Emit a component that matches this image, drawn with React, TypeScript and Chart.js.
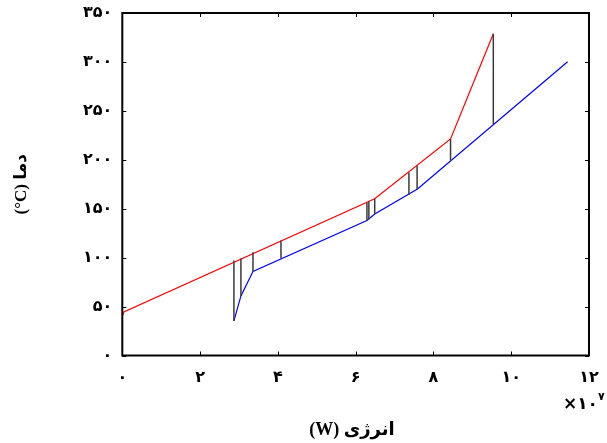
import React, { useEffect, useRef } from 'react';
import { Chart, registerables } from 'chart.js';

Chart.register(...registerables);

// ---- data (energy ×10^7 W, temperature °C) ----
const xTickValues = [0, 2, 4, 6, 8, 10, 12];
const yTickValues = [0, 50, 100, 150, 200, 250, 300, 350];

const hotX = [0, 0.04, 6.49, 8.44, 9.54];
const hotY = [40, 44.5, 160.2, 221.3, 328.8];

const coldX = [2.87, 3.05, 3.36, 6.29, 6.49, 7.59, 11.45];
const coldY = [35.3, 60.9, 85.8, 138, 144.5, 170.1, 300.1];

const linkX = [2.87, 3.05, 3.36, 4.08, 6.29, 6.34, 6.49, 7.37, 7.58, 8.44, 9.54];
const linkTop = [97.0, 99.1, 105.6, 117.5, 156.4, 157.3, 160.2, 187.1, 194.0, 221.3, 328.8];
const linkBottom = [35.3, 60.9, 85.8, 99.5, 138.0, 138.9, 144.5, 164.3, 170.1, 199.4, 236.6];

const xTitle = '(W) انرژی';
const yTitle = '(°C) دما';
const xMultiplier = '×۱۰';
const xExponent = '۷';

const FA_DIGITS = '۰۱۲۳۴۵۶۷۸۹';
const toFa = (n: number) => String(n).replace(/\d/g, (d) => FA_DIGITS[+d]);

const TICK_FONT = "'DejaVu Sans', sans-serif";
const TITLE_FONT = "'Liberation Serif', 'DejaVu Sans', serif";

const framePlugin = {
  id: 'frameAndTitles',
  afterDraw(chart: any) {
    const { ctx, chartArea: a, scales } = chart;
    const xs = scales.x;
    const ys = scales.y;
    ctx.save();
    ctx.strokeStyle = '#000';
    ctx.lineWidth = 2;
    ctx.strokeRect(a.left, a.top, a.right - a.left, a.bottom - a.top);
    ctx.lineWidth = 1;
    const L = 4;
    ctx.beginPath();
    xTickValues.forEach((v) => {
      const px = Math.round(xs.getPixelForValue(v)) + 0.5;
      ctx.moveTo(px, a.bottom);
      ctx.lineTo(px, a.bottom - L);
      ctx.moveTo(px, a.top);
      ctx.lineTo(px, a.top + L);
    });
    yTickValues.forEach((v) => {
      const py = Math.round(ys.getPixelForValue(v)) + 0.5;
      ctx.moveTo(a.left, py);
      ctx.lineTo(a.left + L, py);
      ctx.moveTo(a.right, py);
      ctx.lineTo(a.right - L, py);
    });
    ctx.stroke();

    ctx.fillStyle = '#000';
    ctx.textAlign = 'center';
    ctx.textBaseline = 'middle';
    ctx.font = `bold 18px ${TITLE_FONT}`;
    ctx.fillText(xTitle, 352, 430);

    ctx.save();
    ctx.translate(22, (a.top + a.bottom) / 2);
    ctx.rotate(-Math.PI / 2);
    ctx.font = `bold 17px ${TITLE_FONT}`;
    ctx.fillText(yTitle, 0, 0);
    ctx.restore();

    ctx.textAlign = 'right';
    ctx.font = `bold 17px ${TICK_FONT}`;
    ctx.fillText(xMultiplier, 598, 405);
    ctx.textAlign = 'left';
    ctx.font = `bold 11px ${TICK_FONT}`;
    ctx.fillText(xExponent, 598, 397);
    ctx.restore();
  },
};

export default function App() {
  const ref = useRef<HTMLCanvasElement | null>(null);

  useEffect(() => {
    document.body.style.margin = '0';
    const canvas = ref.current;
    if (!canvas) return;

    const hot = hotX.map((x, i) => ({ x, y: hotY[i] }));
    const cold = coldX.map((x, i) => ({ x, y: coldY[i] }));
    const links: { x: number; y: number | null }[] = [];
    linkX.forEach((x, i) => {
      links.push({ x, y: linkTop[i] });
      links.push({ x, y: linkBottom[i] });
      links.push({ x, y: null });
    });

    const chart = new Chart(canvas, {
      type: 'line',
      data: {
        datasets: [
          {
            data: links as any,
            borderColor: '#3a3a3a',
            borderWidth: 1.5,
            pointRadius: 0,
            spanGaps: false,
          },
          {
            data: hot,
            borderColor: '#ff0000',
            borderWidth: 1.2,
            pointRadius: 0,
          },
          {
            data: cold,
            borderColor: '#0000ff',
            borderWidth: 1.2,
            pointRadius: 0,
          },
        ],
      },
      options: {
        animation: false,
        responsive: false,
        maintainAspectRatio: false,
        layout: { padding: { top: 13, right: 18, left: 0, bottom: 0 } },
        plugins: {
          legend: { display: false },
          tooltip: { enabled: false },
        },
        elements: { line: { tension: 0 } },
        scales: {
          x: {
            type: 'linear',
            min: 0,
            max: 12,
            afterFit: (s: any) => {
              s.height = 87.5;
              s.paddingLeft = 0;
              s.paddingRight = 0;
              s.paddingTop = 0;
              s.paddingBottom = 0;
            },
            afterBuildTicks: (s: any) => {
              s.ticks = xTickValues.map((v) => ({ value: v }));
            },
            grid: { display: false, drawTicks: false },
            border: { display: false },
            ticks: {
              color: '#000',
              padding: 13,
              maxRotation: 0,
              font: { family: TICK_FONT, size: 16, weight: 'bold' },
              callback: (v: any) => toFa(Number(v)),
            },
          },
          y: {
            type: 'linear',
            min: 0,
            max: 350,
            afterFit: (s: any) => {
              s.width = 122.3;
              s.paddingLeft = 0;
              s.paddingRight = 0;
              s.paddingTop = 0;
              s.paddingBottom = 0;
            },
            afterBuildTicks: (s: any) => {
              s.ticks = yTickValues.map((v) => ({ value: v }));
            },
            grid: { display: false, drawTicks: false },
            border: { display: false },
            ticks: {
              color: '#000',
              padding: 10,
              font: { family: TICK_FONT, size: 16, weight: 'bold' },
              callback: (v: any) => toFa(Number(v)),
            },
          },
        },
      },
      plugins: [framePlugin],
    } as any);

    return () => chart.destroy();
  }, []);

  return (
    <div style={{ position: 'fixed', left: 0, top: 0, width: 607, height: 443, background: '#fff' }}>
      <canvas ref={ref} width={607} height={443} style={{ width: 607, height: 443, display: 'block' }} />
    </div>
  );
}
